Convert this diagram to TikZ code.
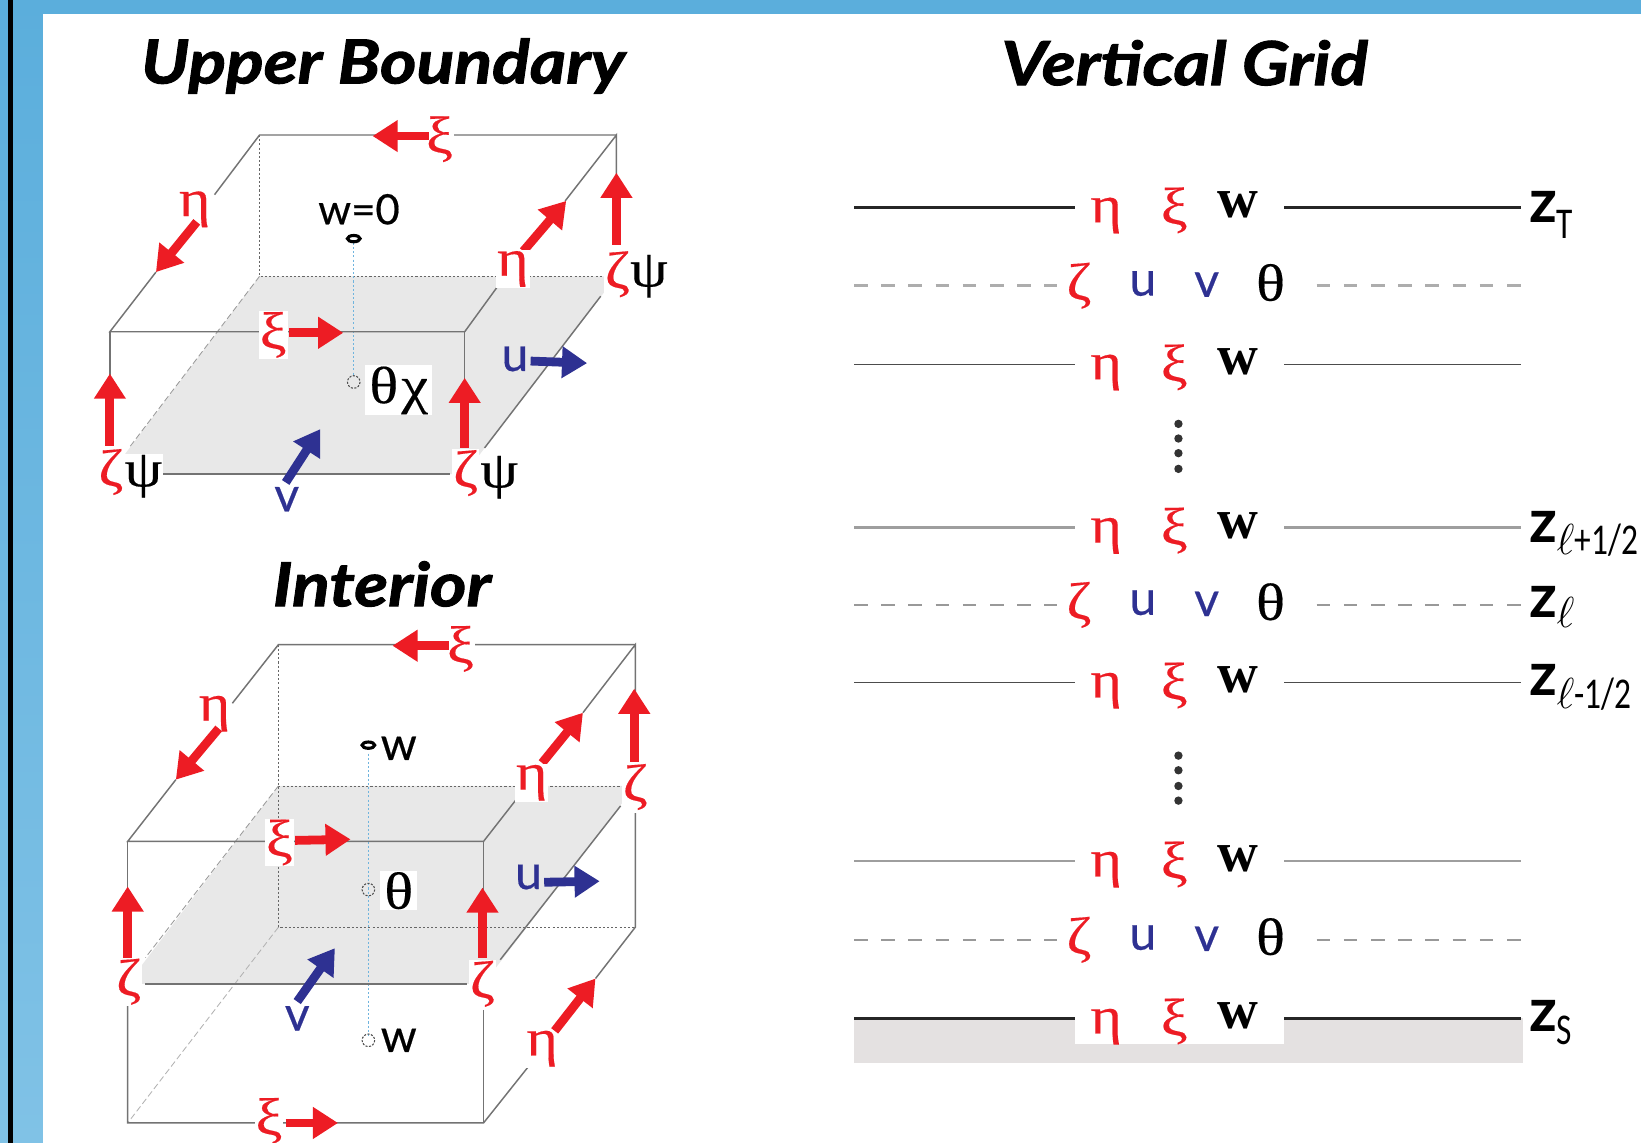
\documentclass[tikz,border=0pt]{standalone}
\usepackage{fontspec}
\setmainfont{Liberation Serif}
\newfontfamily\grk{Liberation Serif}[FakeStretch=1.15,FakeBold=0.3]
\newfontfamily\lat{Lato}[FakeBold=0.4]
\newfontfamily\zbf{Lato}
\newfontfamily\subf{Carlito}[FakeStretch=0.76]
\newfontfamily\ttlf{Lato}[FakeStretch=1.15,FakeBold=1.6]
\usetikzlibrary{arrows.meta}
\definecolor{rd}{HTML}{ED1C24}
\definecolor{bl}{HTML}{2E3192}
\definecolor{sky}{HTML}{5BAEDC}
\definecolor{skyb}{HTML}{80C2E6}
\definecolor{plane}{HTML}{E8E8E8}
\definecolor{ground}{HTML}{E4E1E1}
\definecolor{vert}{HTML}{6FB4DE}
\tikzset{
  x=0.5pt,y=-0.5pt,
  edge/.style={draw=black!55,line width=0.7pt},
  hid/.style={draw=black!60,line width=0.4pt,dash pattern=on 1pt off 1pt},
  vertl/.style={draw=vert,line width=0.6pt,dash pattern=on 1pt off 1pt},
  hidg/.style={draw=black!40,line width=0.4pt,dash pattern=on 3pt off 1.5pt},
  redarr/.style={draw=rd,line width=4.2pt,-{Triangle[length=12pt,width=14.5pt]}},
  bluearr/.style={draw=bl,line width=4.2pt,-{Triangle[length=12pt,width=14.5pt]}},
  gr/.style={inner sep=0.5pt,font=\grk\fontsize{25}{25}\selectfont},
  rg/.style={gr,text=rd},
  kg/.style={gr,text=black},
  wrg/.style={rg,fill=white},
  wkg/.style={kg,fill=white},
  sansb/.style={inner sep=0.5pt,text=bl,font=\lat\fontsize{23}{23}\selectfont},
  sansk/.style={inner sep=0.5pt,text=black,font=\lat\fontsize{20}{20}\selectfont},
  sansw/.style={inner sep=0.5pt,text=black,font=\lat\fontsize{22}{22}\selectfont},
  boldw/.style={inner sep=0.5pt,font=\bfseries\fontsize{27}{27}\selectfont},
  ttl/.style={inner sep=0pt,text=black,font=\ttlf\bfseries\itshape\fontsize{29}{29}\selectfont},
  zlab/.style={inner sep=0pt,anchor=base west,font=\zbf\bfseries\fontsize{29}{29}\selectfont},
  gridk/.style={draw=black!70,line width=0.6pt},
  gridth/.style={draw=black!85,line width=1.4pt},
  gridl/.style={draw=black!38,line width=1pt},
  dashg/.style={draw=black!40,line width=0.8pt,dash pattern=on 6.5pt off 6.5pt},
  dashth/.style={draw=black!32,line width=1.3pt,dash pattern=on 6.5pt off 6.5pt},
  vdot/.style={fill=black!80,draw=none,circle,minimum size=4pt,inner sep=0pt},
  dotc/.style={draw=black!70,line width=0.5pt,dash pattern=on 1pt off 0.7pt},
}
\newcommand{\gridA}[1]{%
  \node[rg] at (1057,#1+8) {η};
  \node[rg] at (1122,#1+3) {ξ};
  \node[boldw] at (1183,#1-2) {w};
}
\newcommand{\gridB}[1]{%
  \node[rg] at (1031,#1) {ζ};
  \node[sansb] at (1092,#1-2) {u};
  \node[sansb] at (1153,#1-1) {v};
  \node[kg] at (1214,#1-3) {θ};
}
\newcommand{\subz}[2][6pt]{\lower#1\hbox{\kern-0.3pt\subf\mdseries\fontsize{21}{21}\selectfont #2}}
\newcommand{\subell}{{\fontsize{20}{20}\selectfont$\ell$}}
\begin{document}
\begin{tikzpicture}
\useasboundingbox (0,0) rectangle (1568,1092);
\shade[top color=sky,bottom color=skyb] (0,0) rectangle (1568,1092);
\fill[white] (41,13) rectangle (1568,1092);
\fill[black] (7.6,0) rectangle (12.7,1092);
% ---------- upper boundary
\node[ttl] (t1) at (366,63) {Upper Boundary};
\fill[plane] (248,264) -- (589,264) -- (444,453) -- (105,453) -- cycle;
\draw[hid] (248,129) -- (248,264) -- (575,264);
\draw[vertl] (338,232) -- (338,358);
\draw[hidg] (248,264) -- (124,427);
\draw[edge] (589,129) -- (248,129) -- (205,186);
\draw[edge] (149,260) -- (105,317) -- (444,317) -- (476,273);
\draw[edge] (540,192) -- (589,129) -- (589,170);
\draw[edge] (105,317) -- (105,365);
\draw[edge] (444,317) -- (444,365);
\draw[edge] (156,453) -- (430,453);
\draw[edge] (574,283) -- (463,428);
\node[rg,fill=white,inner ysep=3pt] (a1) at (420,133) {ξ};
\draw[redarr] (410,130) -- (356,130);
\node[rg] (a2) at (186,200) {η};
\draw[redarr] (188,212) -- (149,260);
\draw[redarr] (500,240) -- (541,192);
\node[wrg] (a3) at (490,257) {η};
\draw[redarr] (589,234) -- (589,165);
\node[wrg] (a4) at (590,262) {ζ};
\node[kg] (a5) at (620,264) {ψ};
\node[wrg] (a6) at (261,320) {ξ};
\draw[redarr] (276,318) -- (328,318);
\draw[redarr] (105,426) -- (105,357);
\draw[redarr] (444,428) -- (444,361);
\node[wrg] (a7) at (106,451) {ζ};
\node[wkg] (a8) at (137,455) {ψ};
\node[wrg] (a9) at (445,452) {ζ};
\node[wkg] (a10) at (477,456) {ψ};
\draw[bluearr] (273,461) -- (306,410);
\node[sansb] (a11) at (274,477) {v};
\node[sansb] (a12) at (492,343) {u};
\draw[bluearr] (507,345) -- (561,347);
\node[sansk] (a13) at (343,200) {w=0};
\draw[black,line width=1.5pt] (338,228) ellipse[x radius=6,y radius=3];
\draw[dotc] (338,365) circle[radius=6];
\node[wkg,inner xsep=2pt] (a14) at (381,373) {θ\kern1.5ptχ};
% ---------- interior
\node[ttl] (t2) at (365,558) {Interior};
\fill[plane] (266,751) -- (607,751) -- (462,940) -- (122,940) -- cycle;
\draw[hid] (266,616) -- (266,886) -- (607,886);
\draw[hid] (266,751) -- (600,751);
\draw[vertl] (352,720) -- (352,990);
\draw[hidg] (266,751) -- (139,915);
\draw[hidg,draw=black!30] (266,886) -- (122,1073);
\draw[edge] (607,616) -- (266,616) -- (222,672);
\draw[edge] (168,745) -- (122,804) -- (462,804) -- (494,763);
\draw[edge] (557,681) -- (607,616) -- (607,665);
\draw[edge] (607,777) -- (607,886) -- (569,935);
\draw[edge] (122,804) -- (122,855);
\draw[edge] (462,804) -- (462,855);
\draw[edge] (139,940) -- (446,940);
\draw[edge] (593,770) -- (478,917);
\draw[edge] (122,960) -- (122,1073) -- (462,1073) -- (505,1019);
\draw[edge] (462,965) -- (462,1073);
\node[rg,fill=white,inner ysep=3pt] (b1) at (440,620) {ξ};
\draw[redarr] (429,617) -- (375,617);
\node[rg] (b2) at (205,682) {η};
\draw[redarr] (209,696) -- (168,745);
\draw[redarr] (518,729) -- (557,681);
\node[wrg] (b3) at (508,748) {η};
\draw[redarr] (606,728) -- (606,658);
\node[wrg] (b4) at (607,752) {ζ};
\node[wrg] (b5) at (267,805) {ξ};
\draw[redarr] (282,803) -- (335,802);
\draw[redarr] (122,915) -- (122,847);
\draw[redarr] (461,915) -- (461,848);
\node[wrg] (b6) at (123,938) {ζ};
\node[wrg] (b7) at (461,940) {ζ};
\node[wrg] (b8) at (518,1002) {η};
\draw[redarr] (530,985) -- (569,935);
\node[wrg] (b9) at (257,1071) {ξ};
\draw[redarr] (273,1073) -- (323,1073);
\draw[bluearr] (284,957) -- (320,906);
\node[sansb] (b10) at (284,973) {v};
\node[sansb] (b11) at (505,838) {u};
\draw[bluearr] (520,843) -- (573,842);
\draw[black,line width=1.5pt] (352,712) ellipse[x radius=6,y radius=3];
\node[sansw] (b12) at (381,715) {w};
\draw[dotc] (352,850) circle[radius=6];
\node[wkg,inner xsep=2pt] (b13) at (381,851) {θ};
\draw[dotc] (352,994) circle[radius=6];
\node[sansw] (b14) at (381,994) {w};
% ---------- vertical grid
\node[ttl] (t3) at (1132,60) {Vertical Grid};
\fill[ground] (816,973) rectangle (1455,1016);
\fill[white] (1027,973) rectangle (1227,998);
\foreach \yy/\st in {198/gridth,348/gridk,504/gridl,652/gridk,823/gridl,973/gridth}{
  \draw[\st] (816,\yy) -- (1027,\yy);
  \draw[\st] (1227,\yy) -- (1453,\yy);
  \gridA{\yy}
}
\foreach \yy/\st in {273/dashth,578/dashg,898/dashg}{
  \draw[\st] (816,\yy) -- (1010,\yy);
  \draw[\st] (1258,\yy) -- (1453,\yy);
  \gridB{\yy}
}
\foreach \yy in {405,419,433,448,722,736,751,765}{
  \node[vdot] at (1126,\yy) {};
}
\node[zlab] (z1) at (1461,213) {z\subz[7.5pt]{T}};
\node[zlab] (z2) at (1461,518) {z\subz{\subell+1/2}};
\node[zlab] (z3) at (1461,590) {z\subz[5pt]{\subell}};
\node[zlab] (z4) at (1461,665) {z\subz{\subell-1/2}};
\node[zlab] (z5) at (1461,986) {z\subz{S}};
\end{tikzpicture}
\end{document}
